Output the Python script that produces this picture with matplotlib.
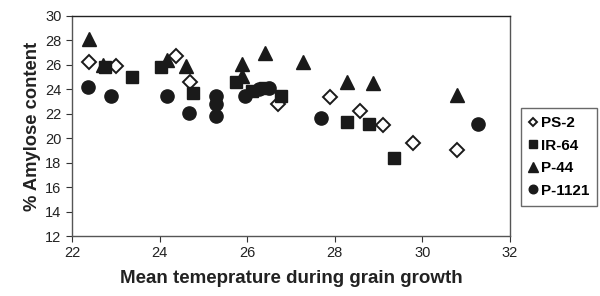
import matplotlib
matplotlib.use("Agg")
import matplotlib.pyplot as plt

plt.rcParams['font.family'] = ['Liberation Sans', 'DejaVu Sans']

ps2_x = [22.39, 23.0, 24.38, 24.69, 26.7, 27.88, 28.58, 29.09, 29.78, 30.8]
ps2_y = [26.2, 25.9, 26.7, 24.6, 22.8, 23.4, 22.2, 21.1, 19.6, 19.0]

ir64_x = [22.75, 23.36, 24.04, 24.76, 25.75, 26.1, 26.4, 26.78, 28.27, 28.79, 29.36]
ir64_y = [25.8, 25.0, 25.8, 23.7, 24.6, 23.9, 24.1, 23.45, 21.3, 21.2, 18.4]

p44_x = [22.39, 22.71, 24.17, 24.6, 25.87, 25.89, 26.4, 27.27, 28.27, 28.88, 30.8]
p44_y = [28.1, 26.0, 26.4, 25.9, 26.1, 25.1, 26.95, 26.26, 24.6, 24.5, 23.5]

p1121_x = [22.37, 22.88, 24.16, 24.67, 25.28, 25.28, 25.28, 25.96, 26.28, 26.5, 27.69, 31.28]
p1121_y = [24.2, 23.45, 23.45, 22.04, 23.45, 22.8, 21.84, 23.48, 24.05, 24.1, 21.63, 21.16]

labels = ["PS-2", "IR-64", "P-44", "P-1121"]
xticks = [22, 24, 26, 28, 30, 32]
yticks = [12, 14, 16, 18, 20, 22, 24, 26, 28, 30]

fig = plt.figure(figsize=(6.0, 2.96), dpi=100)
ax = fig.add_axes([0.12, 0.2027, 0.73, 0.7433])

c = '#1a1a1a'
ax.plot(ps2_x, ps2_y, linestyle='none', marker='D', markersize=7, markerfacecolor='white',
        markeredgecolor=c, markeredgewidth=1.4, label=labels[0], zorder=3)
ax.plot(ir64_x, ir64_y, linestyle='none', marker='s', markersize=9, color=c, label=labels[1], zorder=3)
ax.plot(p44_x, p44_y, linestyle='none', marker='^', markersize=10, color=c, label=labels[2], zorder=3)
ax.plot(p1121_x, p1121_y, linestyle='none', marker='o', markersize=9.5, color=c, label=labels[3], zorder=3)

ax.set_xlim(22, 32)
ax.set_ylim(12, 30)
ax.set_xticks(xticks)
ax.set_yticks(yticks)
ax.tick_params(axis='both', direction='out', length=4, width=0.8, labelsize=10.5, colors='#333333')
ax.tick_params(axis='both', labelcolor='#222222')
for s in ax.spines.values():
    s.set_color('#555555')
    s.set_linewidth(1.0)
ax.spines['top'].set_color('#222222')

ax.set_xlabel("Mean temeprature during grain growth", fontsize=13.5, fontweight='bold', color='#222222', labelpad=7)
ax.set_ylabel("% Amylose content", fontsize=13.2, fontweight='bold', color='#222222', labelpad=3)

leg = fig.legend(loc='upper left', bbox_to_anchor=(0.868, 0.635), frameon=True, fancybox=False,
                 prop={'weight': 'bold', 'size': 11}, handlelength=0.5, handletextpad=0.25,
                 borderpad=0.55, labelspacing=0.55, markerscale=0.65, borderaxespad=0)
leg.get_frame().set_edgecolor('#444444')
leg.get_frame().set_linewidth(1.0)

fig.savefig("out.png", dpi=100)
